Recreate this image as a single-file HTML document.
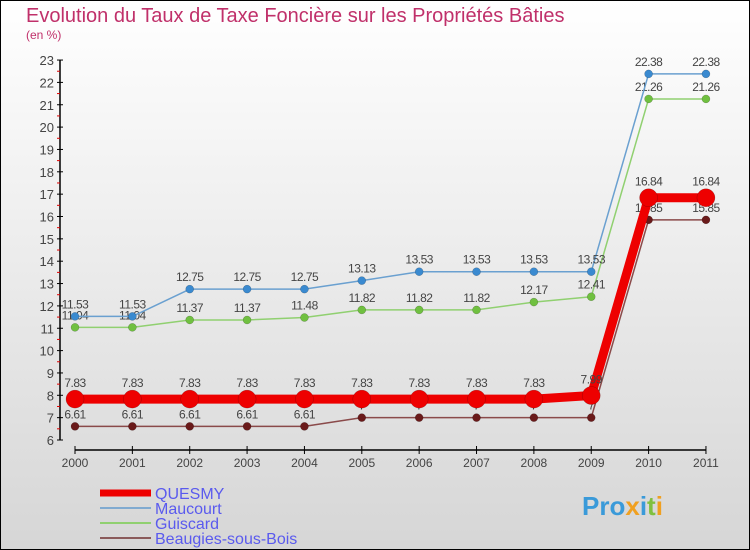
<!DOCTYPE html>
<html><head><meta charset="utf-8"><style>
body{margin:0}
#c{width:750px;height:550px;box-sizing:border-box;border:1px solid #000;background:linear-gradient(#fff,#d6d6d6);position:relative;overflow:hidden;font-family:"Liberation Sans",sans-serif}
</style></head><body>
<div id="c">
<svg id="s" width="750" height="550" style="position:absolute;left:-1px;top:-1px">
<text x="26" y="22" font-size="20" fill="#c0306a">Evolution du Taux de Taxe Foncière sur les Propriétés Bâties</text>
<text x="26" y="39" font-size="12" fill="#c0306a">(en %)</text>
<g id="ax"></g><g id="ser"></g>
<text x="582" y="515" font-size="26" font-weight="bold" fill="#3a9ad9">Pro<tspan fill="#f0a020">x</tspan><tspan fill="#3a9ad9">i</tspan><tspan fill="#80c040">t</tspan><tspan fill="#f0a020">i</tspan></text>
</svg>
</div>
<script>
const years=[2000,2001,2002,2003,2004,2005,2006,2007,2008,2009,2010,2011];
const quesmy=[7.83,7.83,7.83,7.83,7.83,7.83,7.83,7.83,7.83,7.99,16.84,16.84];
const maucourt=[11.53,11.53,12.75,12.75,12.75,13.13,13.53,13.53,13.53,13.53,22.38,22.38];
const guiscard=[11.04,11.04,11.37,11.37,11.48,11.82,11.82,11.82,12.17,12.41,21.26,21.26];
const beaugies=[6.61,6.61,6.61,6.61,6.61,7,7,7,7,7,15.85,15.85];
const yTicks=[6,7,8,9,10,11,12,13,14,15,16,17,18,19,20,21,22,23];
const NS="http://www.w3.org/2000/svg";
const X=i=>75+i*57.36, Y=v=>440-(v-6)*22.35;
function mk(t,a,p){const e=document.createElementNS(NS,t);for(const k in a)e.setAttribute(k,a[k]);p.appendChild(e);return e;}
const ax=document.getElementById('ax'), ser=document.getElementById('ser');
let l=mk('line',{x1:60,y1:Y(23),x2:60,y2:Y(6),stroke:'#000','stroke-width':1.5},ax);


yTicks.forEach(v=>{
 mk('line',{x1:57,x2:63,y1:Y(v),y2:Y(v),stroke:'#000'},ax);
 if(v<23) mk('line',{x1:57,x2:60,y1:Y(v+0.5),y2:Y(v+0.5),stroke:'#d00'},ax);
 const t=mk('text',{x:54,y:Y(v)+5,'text-anchor':'end','font-size':13,fill:'#444'},ax);t.textContent=v;
 
 
});
l=mk('line',{x1:X(0),y1:450,x2:X(11),y2:450,stroke:'#000','stroke-width':1.5},ax);


years.forEach((y,i)=>{
 mk('line',{x1:X(i),x2:X(i),y1:446,y2:454,stroke:'#000'},ax);
 const t=mk('text',{x:X(i),y:467,'text-anchor':'middle','font-size':12,fill:'#444'},ax);t.textContent=y;
 
 
});
function series(d,col,w,r,dot,name,labOff){
 const g=mk('g',{},ser);
 
 
 mk('polyline',{points:d.map((v,i)=>X(i)+','+Y(v)).join(' '),fill:'none',stroke:col,'stroke-width':w,'stroke-linejoin':'round'},g);
 d.forEach((v,i)=>{
  const c=mk('circle',{cx:X(i),cy:Y(v),r:r,fill:dot,stroke:'rgba(0,0,0,0.3)','stroke-width':0.5},g);
  
  
  const t=mk('text',{x:X(i),y:Y(v)-labOff,'text-anchor':'middle','font-size':12,fill:'#444','letter-spacing':'-0.5'},g);t.textContent=v;
  
  
 });
}
series(beaugies,'#8a4a4a',1.5,4,'#6a1a1a','beaugies',8);
series(guiscard,'#90d070',1.5,4,'#70c040','guiscard',8);
series(maucourt,'#6aa0d0',1.5,4,'#3a8ad0','maucourt',8);
series(quesmy,'#ee0000',9,9,'#ee0000','quesmy',12);
const leg=[['QUESMY','#ee0000',7],['Maucourt','#80aad0',2],['Guiscard','#90d070',2],['Beaugies-sous-Bois','#8a5a5a',2]];
leg.forEach((e,i)=>{
 const y=493+i*15;
 const g=mk('g',{},ser);
 
 
 mk('line',{x1:100,x2:151,y1:y,y2:y,stroke:e[1],'stroke-width':e[2]},g);
 const t=mk('text',{x:155,y:y+6,'font-size':16,fill:'#5a5aee'},g);t.textContent=e[0];
});
</script>
</body></html>
